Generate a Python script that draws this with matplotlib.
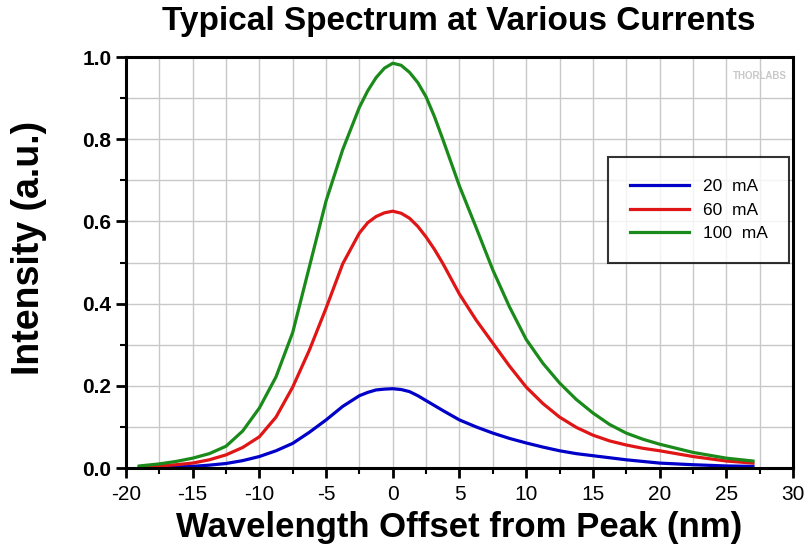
import matplotlib
matplotlib.use('Agg')
import matplotlib.pyplot as plt
from matplotlib.ticker import MultipleLocator

plt.rcParams['font.family'] = ['Liberation Sans', 'DejaVu Sans']
plt.rcParams['axes.unicode_minus'] = False

# wavelength offset (nm), shared by all three currents
offset = [-19, -17.5, -16.25, -15, -13.75, -12.5, -11.25, -10, -8.75, -7.5, -6.25, -5, -3.75,
          -2.5, -1.875, -1.25, -0.625, 0, 0.625, 1.25, 1.875, 2.5, 3.125, 3.75, 5, 6.25,
          7.5, 8.75, 10, 11.25, 12.5, 13.75, 15, 16.25, 17.5, 18.75, 20, 22.5, 25, 27]

i_20mA = [0.001, 0.002, 0.003, 0.004, 0.007, 0.011, 0.018, 0.028, 0.042, 0.060, 0.087, 0.117, 0.150,
          0.176, 0.184, 0.190, 0.192, 0.193, 0.191, 0.186, 0.176, 0.164, 0.152, 0.140, 0.117, 0.100,
          0.085, 0.072, 0.061, 0.051, 0.042, 0.035, 0.030, 0.025, 0.020, 0.016, 0.012, 0.008, 0.005, 0.004]
i_60mA = [0.003, 0.005, 0.008, 0.012, 0.020, 0.032, 0.050, 0.076, 0.124, 0.197, 0.287, 0.389, 0.497,
          0.572, 0.597, 0.612, 0.621, 0.625, 0.620, 0.608, 0.588, 0.562, 0.532, 0.498, 0.423, 0.360,
          0.304, 0.248, 0.197, 0.157, 0.124, 0.099, 0.080, 0.066, 0.056, 0.048, 0.042, 0.028, 0.017, 0.012]
i_100mA = [0.005, 0.010, 0.016, 0.024, 0.035, 0.053, 0.090, 0.146, 0.222, 0.330, 0.490, 0.650, 0.775,
           0.878, 0.918, 0.950, 0.973, 0.985, 0.980, 0.963, 0.938, 0.903, 0.855, 0.800, 0.686, 0.585,
           0.482, 0.392, 0.313, 0.255, 0.207, 0.167, 0.134, 0.106, 0.085, 0.070, 0.058, 0.038, 0.024, 0.017]

labels = ['20  mA', '60  mA', '100  mA']
colors = ['#0000c8', '#e01515', '#1a8a1a']

fig = plt.figure(figsize=(8.09, 5.54), dpi=100)
ax = fig.add_axes([0.1557, 0.1552, 0.8245, 0.7418])

for ys, lab, c in zip([i_20mA, i_60mA, i_100mA], labels, colors):
    ax.plot(offset, ys, color=c, linewidth=2.3, label=lab)

ax.set_xlim(-20, 30)
ax.set_ylim(0, 1.0)
ax.xaxis.set_major_locator(MultipleLocator(5))
ax.xaxis.set_minor_locator(MultipleLocator(2.5))
ax.yaxis.set_major_locator(MultipleLocator(0.2))
ax.yaxis.set_minor_locator(MultipleLocator(0.1))
ax.grid(True, which='both', color='#c8c8c8', linewidth=1.0)
ax.set_axisbelow(True)

for s in ax.spines.values():
    s.set_linewidth(2.2)
ax.tick_params(which='major', direction='out', length=7, width=2, labelsize=15)
ax.tick_params(axis='x', which='major', pad=5)
ax.tick_params(which='minor', direction='out', length=4, width=1.5)
for t in ax.get_yticklabels():
    t.set_fontweight('bold')
ax.yaxis.set_major_formatter(plt.FuncFormatter(lambda v, p: f'{v:.1f}'))

ax.set_xlabel('Wavelength Offset from Peak (nm)', fontsize=25, fontweight='bold', labelpad=5)
ax.set_ylabel('Intensity (a.u.)', fontsize=27, fontweight='bold')
ax.yaxis.set_label_coords(-0.118, 0.535)
fig.text(0.567, 0.962, 'Typical Spectrum at Various Currents', ha='center', va='center',
         fontsize=24, fontweight='bold')

ax.text(0.99, 0.955, 'THORLABS', transform=ax.transAxes, ha='right', va='center',
        fontsize=7, fontweight='bold', color='#c8c8c8')

leg = ax.legend(loc='upper left', bbox_to_anchor=(0.7226, 0.757), fontsize=12.5, frameon=True,
                fancybox=False, handlelength=3.4, borderpad=1.25, labelspacing=0.5, borderaxespad=0)
leg.get_frame().set_edgecolor('black')
leg.get_frame().set_linewidth(1.5)

fig.savefig('out.png', dpi=100)
